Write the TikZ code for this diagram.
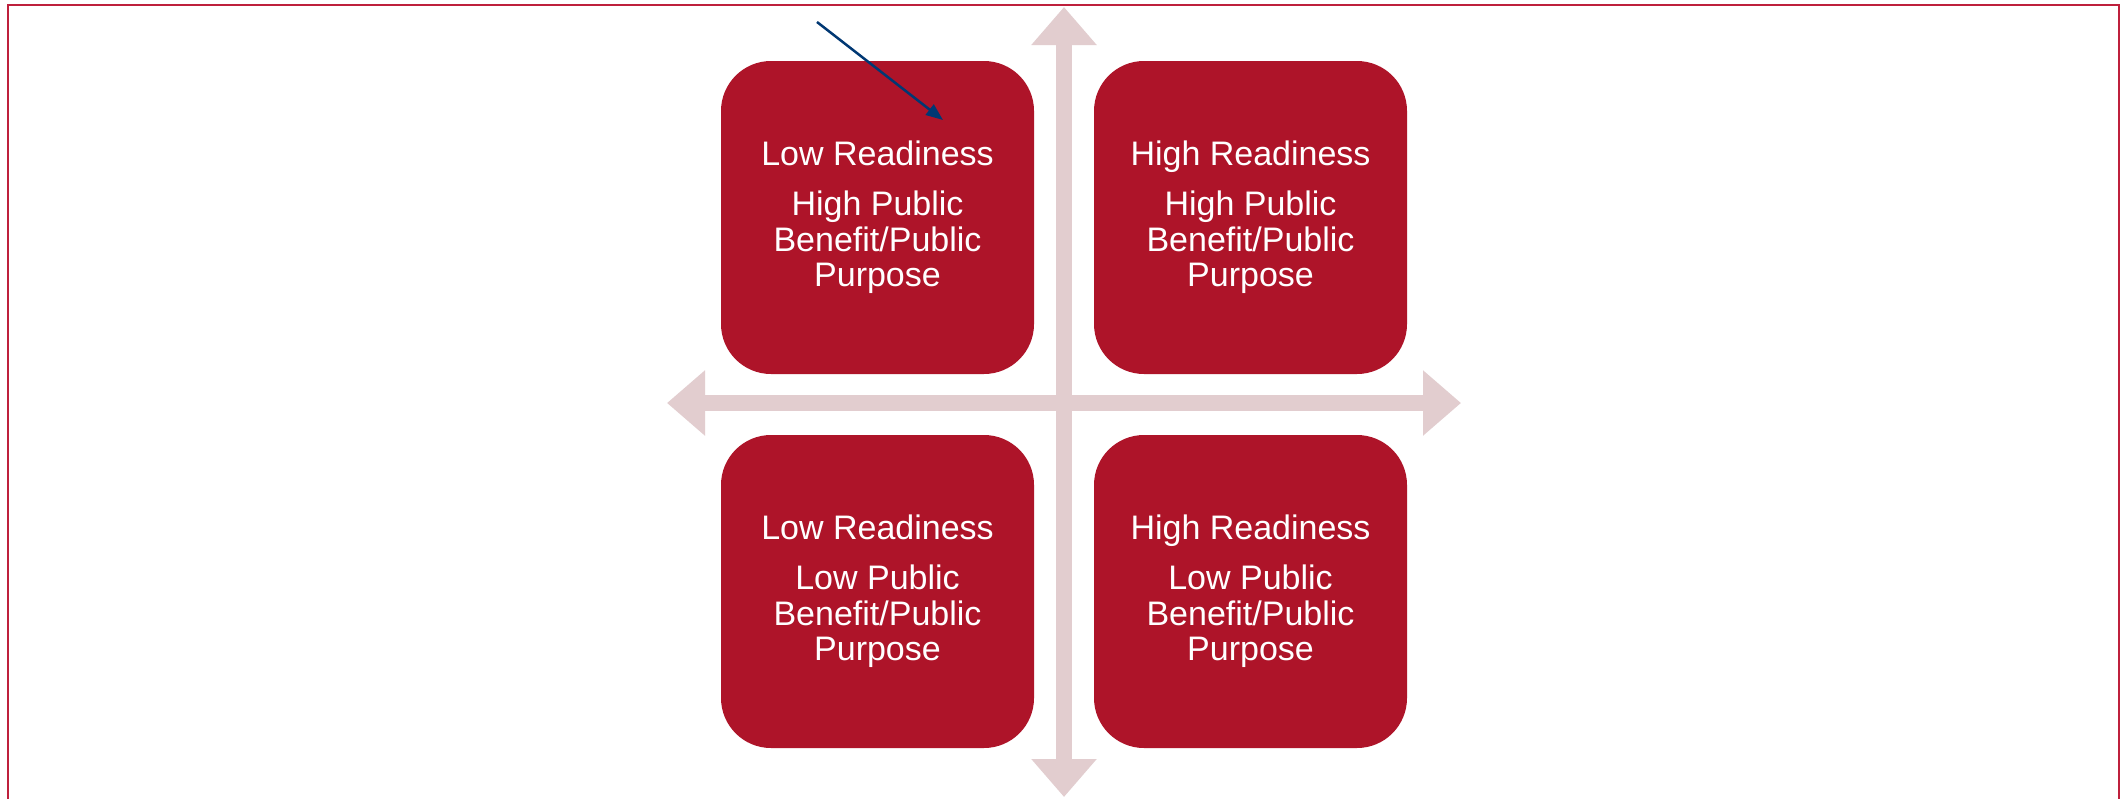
\documentclass[tikz,border=0pt]{standalone}
\usepackage{fontspec}
\setmainfont{Liberation Sans}
\usetikzlibrary{arrows.meta}
\definecolor{boxred}{RGB}{174,20,41}
\definecolor{axispink}{RGB}{226,205,207}
\definecolor{framered}{RGB}{190,32,60}
\definecolor{navyarrow}{RGB}{0,56,115}
\tikzset{
  quadbox/.style={fill=boxred, draw=none, rounded corners=50pt, minimum width=313pt,
    minimum height=313pt, inner sep=0pt, text=white, align=center,
    font=\fontsize{34}{35.5}\selectfont},
  axisline/.style={draw=axispink, line width=16.5pt,
    {Triangle[length=38pt,width=63pt]}-{Triangle[length=38pt,width=63pt]}},
  pointer/.style={draw=navyarrow, line width=2.5pt, -{Triangle[length=17pt,width=13pt]}},
  frameline/.style={draw=framered, line width=2pt}
}
\begin{document}
\begin{tikzpicture}[x=1pt,y=-1pt]
\useasboundingbox (0,0) rectangle (2120,798);
\fill[white] (0,0) rectangle (2120,798);
% frame
\draw[frameline] (8,810) -- (8,5) -- (2118.5,5) -- (2118.5,810);
% axes
\coordinate (vtop) at (1064,7);
\coordinate (vbot) at (1064,797);
\coordinate (hleft) at (667,403);
\coordinate (hright) at (1461,403);
\draw[axisline] (vbot) -- (vtop);
\draw[axisline] (hleft) -- (hright);
% quadrants
\node[quadbox] (q1) at (877.5,217.5) {Low Readiness\\[14.5pt]High Public\\Benefit/Public\\Purpose};
\node[quadbox] (q2) at (1250.5,217.5) {High Readiness\\[14.5pt]High Public\\Benefit/Public\\Purpose};
\node[quadbox] (q3) at (877.5,591.5) {Low Readiness\\[14.5pt]Low Public\\Benefit/Public\\Purpose};
\node[quadbox] (q4) at (1250.5,591.5) {High Readiness\\[14.5pt]Low Public\\Benefit/Public\\Purpose};
% pointer arrow
\coordinate (pstart) at (817,22);
\coordinate (pend) at (943,120);
\draw[pointer] (pstart) -- (pend);
\end{tikzpicture}
\end{document}
